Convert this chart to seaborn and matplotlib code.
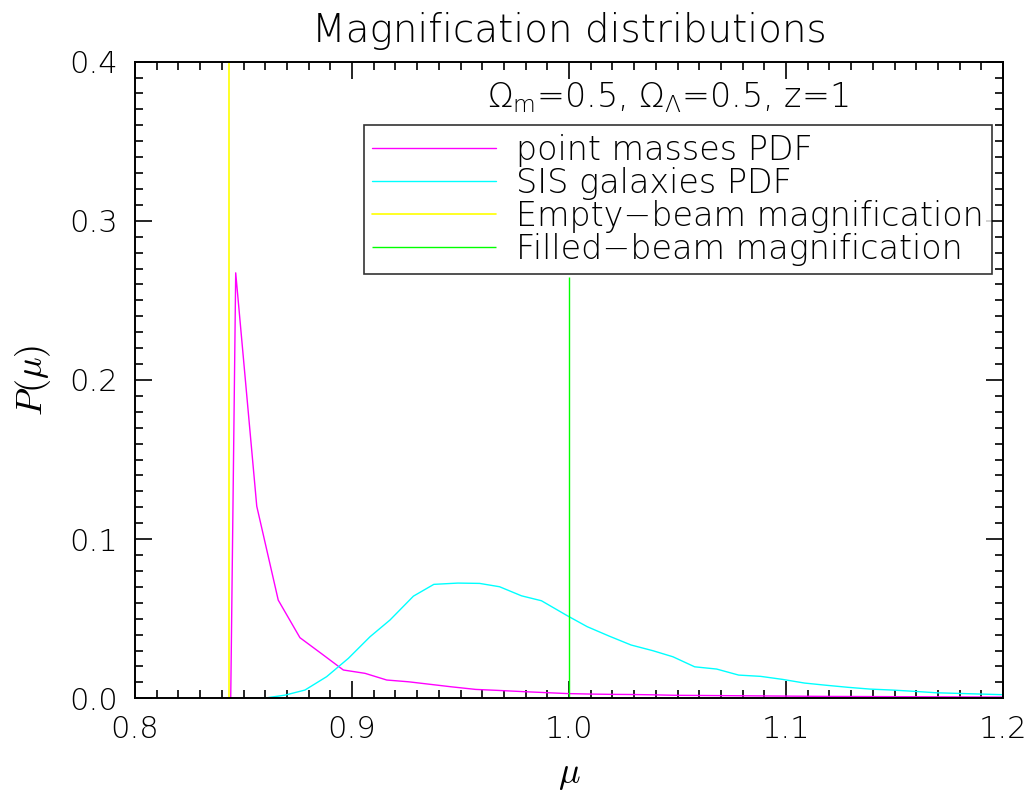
import numpy as np
import pandas as pd
import matplotlib
matplotlib.use('Agg')
import matplotlib.pyplot as plt
import seaborn as sns

# magnification PDFs
mu_pm = [0.8441, 0.8464, 0.8561, 0.866, 0.876, 0.886, 0.896, 0.906, 0.916, 0.926,
         0.936, 0.946, 0.957, 0.967, 0.979, 0.989, 0.999, 1.009, 1.019, 1.029,
         1.039, 1.049, 1.06, 1.07, 1.08, 1.09, 1.10, 1.12, 1.14, 1.16, 1.18, 1.2]
p_pm = [0.0, 0.2673, 0.1207, 0.0617, 0.0381, 0.028, 0.0178, 0.0157, 0.0115, 0.0104,
        0.0088, 0.0072, 0.0056, 0.0050, 0.0042, 0.0036, 0.0030, 0.0027, 0.0025, 0.0024,
        0.0022, 0.0019, 0.0018, 0.0017, 0.0016, 0.0015, 0.0014, 0.0012, 0.0011, 0.0010, 0.0009, 0.0008]

mu_sis = [0.8484, 0.859, 0.8691, 0.8783, 0.8883, 0.8983, 0.9083, 0.9175, 0.9283, 0.9377,
          0.9488, 0.9588, 0.968, 0.9781, 0.9873, 0.9992, 1.0084, 1.0185, 1.0286, 1.0387,
          1.0479, 1.0579, 1.068, 1.0782, 1.0883, 1.0984, 1.1085, 1.1186, 1.1287, 1.1388,
          1.1489, 1.159, 1.1691, 1.1792, 1.1893, 1.1993]
p_sis = [0.0, 0.0, 0.002, 0.0052, 0.0136, 0.0251, 0.0387, 0.0492, 0.0642, 0.0716,
         0.0724, 0.0722, 0.0701, 0.0644, 0.0613, 0.0519, 0.045, 0.0391, 0.0335, 0.0299,
         0.0261, 0.0198, 0.0184, 0.0146, 0.0138, 0.0119, 0.0096, 0.0082, 0.0069, 0.0058,
         0.0052, 0.0044, 0.0035, 0.0031, 0.0027, 0.0023]

mu_empty = 0.8433
mu_filled = 1.0
filled_top = 0.265

labels = ['point masses PDF', 'SIS galaxies PDF',
          'Empty\u2212beam magnification', 'Filled\u2212beam magnification']
colors = ['#ff00ff', '#00ffff', '#ffff00', '#00ff00']
xticks = [0.8, 0.9, 1.0, 1.1, 1.2]
yticks = [0.0, 0.1, 0.2, 0.3, 0.4]

sns.set_style('ticks')
plt.rcParams['font.family'] = ['DejaVu Sans']
plt.rcParams['font.weight'] = 'light'
plt.rcParams['axes.titleweight'] = 'light'
plt.rcParams['axes.labelweight'] = 'light'
plt.rcParams['mathtext.fontset'] = 'cm'
plt.rcParams['text.color'] = 'black'
plt.rcParams['axes.labelcolor'] = 'black'
plt.rcParams['xtick.labelcolor'] = 'black'
plt.rcParams['ytick.labelcolor'] = 'black'

fig = plt.figure(figsize=(10.26, 7.97), dpi=100)
ax = fig.add_axes([0.1316, 0.1238, 0.846, 0.7989])

df_pm = pd.DataFrame({'mu': mu_pm, 'p': p_pm})
df_sis = pd.DataFrame({'mu': mu_sis, 'p': p_sis})
sns.lineplot(data=df_pm, x='mu', y='p', ax=ax, color=colors[0], lw=1.0, label=labels[0])
sns.lineplot(data=df_sis, x='mu', y='p', ax=ax, color=colors[1], lw=1.0, label=labels[1])
ax.axvline(mu_empty, color=colors[2], lw=1.2, label=labels[2])
ax.vlines(mu_filled, 0, filled_top, color=colors[3], lw=1.0, label=labels[3])

ax.set_xlim(0.8, 1.2)
ax.set_ylim(0.0, 0.4)
ax.set_xticks(xticks)
ax.set_yticks(yticks)
ax.set_xticklabels([f'{v:.1f}' for v in xticks])
ax.set_yticklabels([f'{v:.1f}' for v in yticks])
ax.xaxis.set_minor_locator(matplotlib.ticker.MultipleLocator(0.01))
ax.yaxis.set_minor_locator(matplotlib.ticker.MultipleLocator(0.01))
ax.tick_params(which='both', direction='in', top=True, right=True, color='black', width=1.2)
ax.tick_params(which='major', length=12, labelsize=22, pad=12)
ax.tick_params(which='minor', length=6)
for s in ax.spines.values():
    s.set_color('black')
    s.set_linewidth(1.4)

ax.set_xlabel(r'$\mu$', fontsize=26, labelpad=10)
ax.set_ylabel(r'$P(\mu)$', fontsize=26, labelpad=12)
ax.set_title('Magnification distributions', fontsize=28, pad=14, fontweight='light')

ax.text(0.614, 0.944, r'$\Omega_{\mathrm{m}}$=0.5, $\Omega_{\Lambda}$=0.5, z=1',
        transform=ax.transAxes, ha='center', va='center', fontsize=24,
        math_fontfamily='dejavusans')

leg = ax.legend(loc='upper right', bbox_to_anchor=(0.987, 0.90), fontsize=24,
                frameon=True, fancybox=False, handlelength=3.7, handletextpad=0.6,
                borderpad=0.25, labelspacing=0.0, borderaxespad=0)
leg.get_frame().set_edgecolor('black')
leg.get_frame().set_linewidth(1.2)

fig.savefig('out.png', dpi=100)
